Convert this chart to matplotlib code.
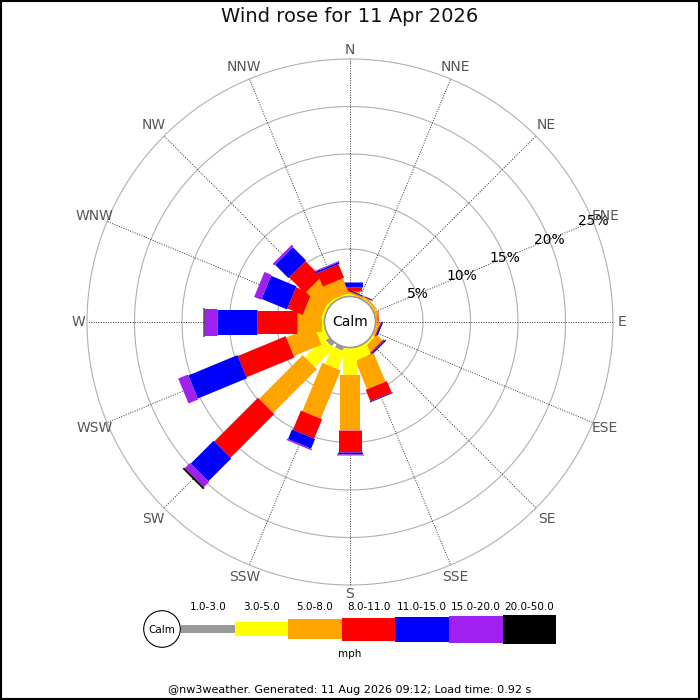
import numpy as np
import matplotlib
matplotlib.use('Agg')
import matplotlib.pyplot as plt
from matplotlib.patches import Circle, Rectangle

directions = ['N', 'NNE', 'NE', 'ENE', 'E', 'ESE', 'SE', 'SSE',
              'S', 'SSW', 'SW', 'WSW', 'W', 'WNW', 'NW', 'NNW']
bands = ['1.0-3.0', '3.0-5.0', '5.0-8.0', '8.0-11.0', '11.0-15.0', '15.0-20.0', '20.0-50.0']
band_colors = ['#999999', '#ffff00', '#ffa500', '#ff0000', '#0000ff', '#a020f0', '#000000']

# percent of time per band, per direction (N, NNE, ... NNW)
pct_1_3 = [0, 0, 0, 0, 0, 0, 0, 0, 0, 0.4, 0.5, 0, 0, 0, 0, 0]
pct_3_5 = [0.3, 0.1, 0.15, 0.1, 0.1, 0.1, 0.3, 1.3, 2.9, 2.0, 2.8, 1.0, 0.3, 0.3, 0.3, 0.2]
pct_5_8 = [0.3, 0.15, 0.15, 0.15, 0.1, 0.2, 0.8, 3.25, 5.8, 5.5, 6.5, 3.15, 2.6, 1.9, 2.5, 1.65]
pct_8_11 = [0.4, 0.05, 0, 0, 0.1, 0.1, 0.15, 1.3, 2.3, 2.2, 6.5, 5.45, 4.2, 1.75, 2.35, 1.55]
pct_11_15 = [0.5, 0.1, 0, 0, 0, 0.15, 0.15, 0.1, 0.2, 1.1, 3.4, 5.6, 4.25, 2.9, 2.0, 0.2]
pct_15_20 = [0, 0, 0, 0, 0, 0, 0, 0, 0.15, 0.15, 0.8, 1.1, 1.35, 0.8, 0.25, 0.1]
pct_20_50 = [0, 0, 0, 0, 0, 0, 0, 0, 0, 0, 0.2, 0, 0.1, 0, 0, 0]

band_px = [8, 14, 20, 23, 25, 27, 29]   # bar thickness in pixels per band
grid_pct = [5, 10, 15, 20, 25]

W = H = 700
cx, cy = 350, 322
R = 263            # pixel radius of 25 %
calm_px = 25.5
px_per_pct = (R - calm_px) / 25.0
r0 = calm_px / px_per_pct

fig = plt.figure(figsize=(7, 7), dpi=100)
ax = fig.add_axes([(cx - R) / W, (H - cy - R) / H, 2 * R / W, 2 * R / H], projection='polar')
ax.set_theta_zero_location('N')
ax.set_theta_direction(-1)
ax.set_ylim(0, 25)
ax.set_rorigin(-r0)
ax.set_xticks([])
ax.set_yticks([])
ax.grid(False)
ax.spines['polar'].set_visible(False)
ax.patch.set_alpha(0)

thetas = np.deg2rad(np.arange(16) * 22.5)

# grid circles
tt = np.linspace(0, 2 * np.pi, 400)
for g in grid_pct:
    ax.plot(tt, np.full_like(tt, g), color='#b0b0b0', lw=0.8, zorder=1, clip_on=False)
# spokes + compass labels
for i, t in enumerate(thetas):
    ax.plot([t, t], [0, 25], color='#333333', lw=0.7, ls=(0, (1, 1.5)), zorder=1, clip_on=False)
    lab_px = 272 + 6 * abs(np.sin(2 * t))
    ax.text(t, lab_px / px_per_pct - r0, directions[i], ha='center', va='center',
            fontsize=10, color='#555555')

# percentage labels along ENE
for g in grid_pct:
    ax.text(np.deg2rad(67.5), g, f'{g}%', ha='center', va='center', fontsize=10, color='black', zorder=2)

# stacked bars
data = np.array([pct_1_3, pct_3_5, pct_5_8, pct_8_11, pct_11_15, pct_15_20, pct_20_50])
cum = np.cumsum(data, axis=0)
for i, t in enumerate(thetas):
    start = 0.0
    for b in range(len(bands)):
        end = cum[b, i]
        if data[b, i] > 0:
            ax.plot([t, t], [start, end], color=band_colors[b], lw=band_px[b] * 72 / 100,
                    solid_capstyle='butt', zorder=3)
        start = end

# overlay axes in pixel coordinates
ov = fig.add_axes([0, 0, 1, 1])
ov.set_xlim(0, W)
ov.set_ylim(H, 0)
ov.axis('off')
ov.patch.set_alpha(0)

ov.add_patch(Circle((cx, cy), calm_px, facecolor='white', edgecolor='#999999', lw=1.2, zorder=5))
ov.text(cx, cy, 'Calm', ha='center', va='center', fontsize=10, zorder=6)

ov.text(350, 17, 'Wind rose for 11 Apr 2026', ha='center', va='center', fontsize=14, color='#111111')
ov.text(350, 690, '@nw3weather. Generated: 11 Aug 2026 09:12; Load time: 0.92 s',
        ha='center', va='center', fontsize=8)

# legend
ly = 629
ov.add_patch(Circle((162, ly), 18.3, facecolor='white', edgecolor='black', lw=0.8))
ov.text(162, ly + 1, 'Calm', ha='center', va='center', fontsize=7.5)
x = 181
seg = 53.6
for b in range(len(bands)):
    h = band_px[b]
    ov.add_patch(Rectangle((x, ly - h / 2), seg, h, facecolor=band_colors[b], edgecolor='none'))
    ov.text(x + seg / 2, 607, bands[b], ha='center', va='center', fontsize=7.5)
    x += seg
ov.text(350, 654, 'mph', ha='center', va='center', fontsize=7.5)

ov.add_patch(Rectangle((0.5, 0.5), W - 1.5, H - 1.5, fill=False, edgecolor='black', lw=1.5))

fig.savefig('out.png', dpi=100)
